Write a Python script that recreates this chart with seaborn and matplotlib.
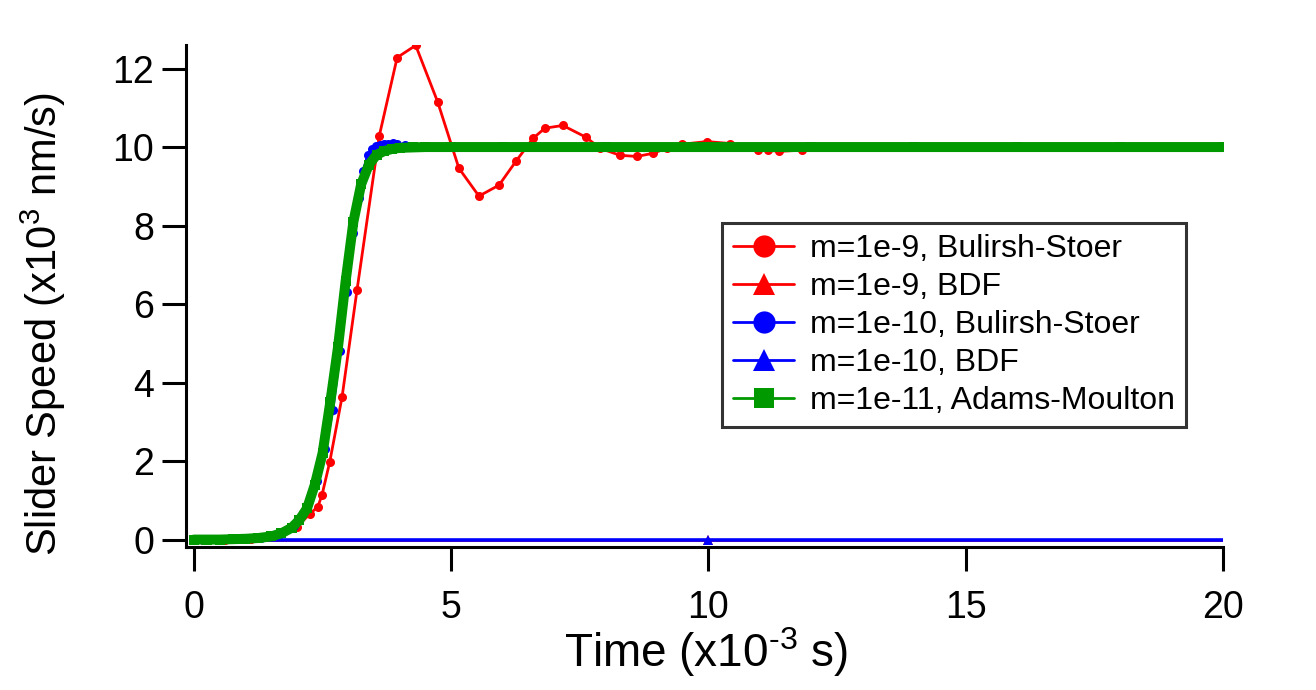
import matplotlib
matplotlib.use("Agg")
import matplotlib.pyplot as plt
import seaborn as sns
from matplotlib.lines import Line2D

# m=1e-9, Bulirsh-Stoer
t_bs9 = [0, 0.17, 0.6, 1.1, 1.6, 2.0, 2.25, 2.41, 2.49, 2.64, 2.88, 3.17, 3.60, 3.95,
         4.31, 4.74, 5.15, 5.54, 5.93, 6.26, 6.59, 6.82, 7.17, 7.62, 7.89, 8.28, 8.61,
         8.92, 9.19, 9.48, 9.97, 10.42, 10.96, 11.16, 11.37, 11.82, 13.0, 14.5, 16.0,
         18.0, 20.0]
v_bs9 = [0, 0, 0, 0.01, 0.08, 0.32, 0.65, 0.84, 1.14, 1.98, 3.64, 6.36, 10.27, 12.28,
         12.59, 11.14, 9.46, 8.75, 9.03, 9.64, 10.22, 10.48, 10.55, 10.25, 9.97, 9.79, 9.76,
         9.84, 9.97, 10.07, 10.14, 10.09, 9.92, 9.92, 9.89, 9.92, 10.0, 10.0, 10.0,
         10.0, 10.0]

# m=1e-9, BDF
t_bdf9 = [0, 10, 20]
v_bdf9 = [0, 0, 0]

# m=1e-10, Bulirsh-Stoer
t_bs10 = [0, 0.17, 0.49, 0.89, 1.3, 1.65, 1.95, 2.2, 2.4, 2.55, 2.7, 2.84, 2.97, 3.1,
          3.2, 3.29, 3.38, 3.46, 3.54, 3.62, 3.7, 3.77, 3.86, 3.95, 4.1, 4.3, 4.6, 5.0,
          5.6, 6.5, 8.0, 10.0, 12.5, 15.0, 17.5, 20.0]
v_bs10 = [0, 0, 0, 0.01, 0.04, 0.12, 0.35, 0.8, 1.5, 2.3, 3.3, 4.8, 6.3, 7.8,
          8.7, 9.4, 9.8, 9.95, 10.03, 10.06, 10.08, 10.09, 10.1, 10.08, 10.05, 10.03, 10.01, 10.0,
          10.0, 10.0, 10.0, 10.0, 10.0, 10.0, 10.0, 10.0]

# m=1e-10, BDF
t_bdf10 = [0, 10, 20]
v_bdf10 = [0, 0, 0]

# m=1e-11, Adams-Moulton
t_am = [0, 0.25, 0.5, 0.75, 1.0, 1.25, 1.5, 1.7, 1.9, 2.05, 2.2, 2.35, 2.5, 2.65, 2.8,
        2.95, 3.1, 3.25, 3.4, 3.55, 3.7, 3.85, 4.0, 4.25, 4.5, 5.0, 6, 8, 10, 12, 14,
        16, 18, 20]
v_am = [0, 0, 0, 0.01, 0.02, 0.04, 0.08, 0.16, 0.3, 0.5, 0.8, 1.4, 2.2, 3.5, 4.9,
        6.6, 8.1, 9.05, 9.55, 9.8, 9.9, 9.95, 9.98, 9.99, 10, 10, 10, 10, 10, 10, 10,
        10, 10, 10]

labels = ["m=1e-9, Bulirsh-Stoer", "m=1e-9, BDF", "m=1e-10, Bulirsh-Stoer",
          "m=1e-10, BDF", "m=1e-11, Adams-Moulton"]

sns.set_style("ticks")
plt.rcParams["font.family"] = ["Liberation Sans", "DejaVu Sans"]
plt.rcParams["mathtext.default"] = "regular"
plt.rcParams.update({"text.color": "black", "axes.labelcolor": "black",
                     "xtick.color": "black", "ytick.color": "black",
                     "axes.edgecolor": "black"})

fig = plt.figure(figsize=(13.16, 6.9), dpi=100)
ax = fig.add_axes([0.1413, 0.2072, 0.788, 0.7276])

RED, BLUE, GREEN = "#ff0000", "#0000ff", "#009900"

sns.lineplot(x=t_bs9, y=v_bs9, ax=ax, color=RED, linewidth=2.0, marker="o",
             markersize=6.5, markeredgewidth=0, sort=False, estimator=None)
sns.lineplot(x=t_bdf9, y=v_bdf9, ax=ax, color=RED, linewidth=2.0, marker="^",
             markersize=7.5, markeredgewidth=0, sort=False, estimator=None,
             markevery=[0, 1])
sns.lineplot(x=t_bs10, y=v_bs10, ax=ax, color=BLUE, linewidth=2.0, marker="o",
             markersize=6.5, markeredgewidth=0, sort=False, estimator=None)
sns.lineplot(x=t_bdf10, y=v_bdf10, ax=ax, color=BLUE, linewidth=2.6, marker="^",
             markersize=7, markeredgewidth=0, sort=False, estimator=None,
             markevery=[0, 1])
sns.lineplot(x=t_am, y=v_am, ax=ax, color=GREEN, linewidth=7.2, marker="s",
             markersize=7, markeredgewidth=0, sort=False, estimator=None)

ax.set_xlim(-0.155, 20)
ax.set_ylim(-0.19, 12.6)
ax.set_xticks([0, 5, 10, 15, 20])
ax.set_yticks([0, 2, 4, 6, 8, 10, 12])

sns.despine(ax=ax)
for s in ["left", "bottom"]:
    ax.spines[s].set_linewidth(2.2)
    ax.spines[s].set_color("black")
ax.tick_params(axis="both", length=17, width=2.2, labelsize=27, color="black",
               labelcolor="black")
ax.tick_params(axis="x", pad=14)
ax.tick_params(axis="y", pad=6)

ax.set_xlabel("Time (x10$^{\u20103}$ s)", fontsize=33)
ax.set_ylabel("Slider Speed (x10$^{3}$ nm/s)", fontsize=30)
ax.xaxis.set_label_coords(0.5015, -0.155)
ax.yaxis.set_label_coords(-0.114, 0.444)

handles = [
    Line2D([], [], color=RED, lw=2, marker="o", markersize=16, markeredgewidth=0),
    Line2D([], [], color=RED, lw=2, marker="^", markersize=16, markeredgewidth=0),
    Line2D([], [], color=BLUE, lw=2, marker="o", markersize=16, markeredgewidth=0),
    Line2D([], [], color=BLUE, lw=2, marker="^", markersize=16, markeredgewidth=0),
    Line2D([], [], color=GREEN, lw=2, marker="s", markersize=14, markeredgewidth=0),
]
leg = fig.legend(handles, labels, loc="upper left", bbox_to_anchor=(722 / 1316, 1 - 223 / 690),
                 fontsize=23, frameon=True, fancybox=False, borderaxespad=0,
                 handlelength=1.9, handletextpad=0.5, labelspacing=0.25,
                 borderpad=0.35)
leg.get_frame().set_edgecolor("black")
leg.get_frame().set_linewidth(2.2)

fig.savefig("out.png", dpi=100)
